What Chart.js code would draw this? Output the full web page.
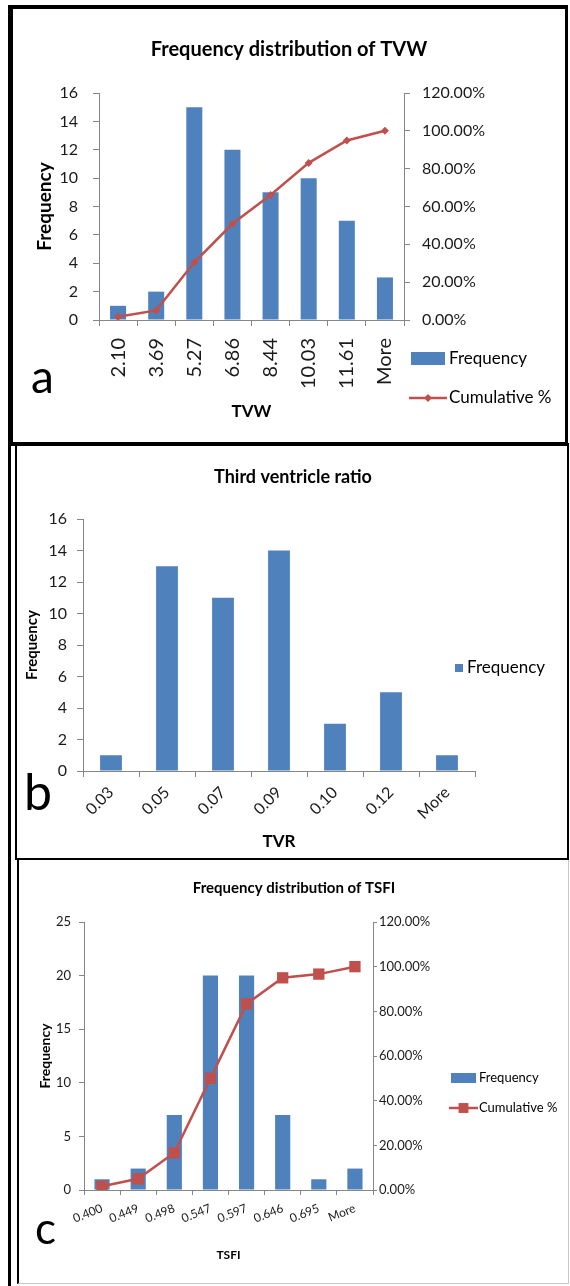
<!DOCTYPE html>
<html>
<head>
<meta charset="utf-8">
<title>Frequency distributions of TVW, TVR and TSFI</title>
<script src="https://cdn.jsdelivr.net/npm/chart.js@4.4.1/dist/chart.umd.min.js"></script>
<style>
  html, body { margin: 0; padding: 0; background: #fff; }
  body { position: relative; width: 570px; height: 1286px; overflow: hidden; font-family: 'Lato', sans-serif; }
  .frame { position: absolute; box-sizing: border-box; border: 0 solid #000; }
  canvas { position: absolute; }
</style>
</head>
<body>
<!-- panel frames -->
<div class="frame" style="left:8px;top:5px;width:560px;height:441px;border-width:4px 3px 4px 5px;"></div>
<div class="frame" style="left:8px;top:446px;width:3px;height:840px;background:#000;"></div>
<div class="frame" style="left:15px;top:443px;width:554px;height:417px;border-width:2px;"></div>
<div class="frame" style="left:17px;top:860px;width:552px;height:424px;border-width:0 1px 1px 2px;border-color:#000 #c8c8c8 #c8c8c8 #000;"></div>

<canvas id="tvwChart" width="552" height="433" style="left:13px;top:9px"></canvas>
<canvas id="tvrChart" width="550" height="413" style="left:17px;top:445px"></canvas>
<canvas id="tsfiChart" width="548" height="421" style="left:19px;top:862px"></canvas>

<script>
// --- data ---
const tvwBins = ['2.10', '3.69', '5.27', '6.86', '8.44', '10.03', '11.61', 'More'];
const tvwFrequency = [1, 2, 15, 12, 9, 10, 7, 3];
const tvwCumulative = [1.69, 5.08, 30.51, 50.85, 66.10, 83.05, 94.92, 100];

const tvrBins = ['0.03', '0.05', '0.07', '0.09', '0.10', '0.12', 'More'];
const tvrFrequency = [1, 13, 11, 14, 3, 5, 1];

const tsfiBins = ['0.400', '0.449', '0.498', '0.547', '0.597', '0.646', '0.695', 'More'];
const tsfiFrequency = [1, 2, 7, 20, 20, 7, 1, 2];
const tsfiCumulative = [1.67, 5.00, 16.67, 50.00, 83.33, 95.00, 96.67, 100];

const freqTicks = [16, 16, 25];      // left axis max (a, b, c)
const pctTicks = [0, 120];           // right axis range

// --- styling ---
const AXIS_GRAY = '#868686';
const BAR_BLUE = '#4F81BD';
const LINE_RED = '#C0504D';
const TEXT = '#1a1a1a';

Chart.defaults.font.family = "'Lato', sans-serif";
Chart.defaults.color = TEXT;

function drawMarker(ctx, style, x, y, r, color) {
    ctx.fillStyle = color;
    ctx.beginPath();
    if (style === 'rectRot') {
        ctx.moveTo(x, y - r);
        ctx.lineTo(x + r, y);
        ctx.lineTo(x, y + r);
        ctx.lineTo(x - r, y);
        ctx.closePath();
    } else {
        const s = r * Math.SQRT1_2;
        ctx.rect(x - s, y - s, 2 * s, 2 * s);
    }
    ctx.fill();
}

// title, panel letter and Excel-like legend
const decorPlugin = {
    id: 'decor',
    afterDraw(chart, args, o) {
        const ctx = chart.ctx;
        ctx.save();
        ctx.fillStyle = '#000';
        ctx.textAlign = 'center';
        ctx.textBaseline = 'middle';
        ctx.font = o.titleFont;
        ctx.fillText(o.title, o.titleX, o.titleY);

        ctx.textAlign = 'left';
        ctx.textBaseline = 'alphabetic';
        ctx.font = o.letterFont;
        ctx.fillText(o.letter, o.letterX, o.letterY);

        ctx.textBaseline = 'middle';
        ctx.font = o.legendFont;
        o.legend.forEach(item => {
            const ds = chart.data.datasets[item.dataset];
            if (ds.type === 'line') {
                ctx.strokeStyle = ds.borderColor;
                ctx.lineWidth = ds.borderWidth;
                ctx.beginPath();
                ctx.moveTo(item.x, item.y);
                ctx.lineTo(item.x + item.w, item.y);
                ctx.stroke();
                drawMarker(ctx, ds.pointStyle, item.x + item.w / 2, item.y, item.r, ds.pointBackgroundColor);
            } else {
                ctx.fillStyle = ds.backgroundColor;
                ctx.fillRect(item.x, item.y - item.h / 2, item.w, item.h);
            }
            ctx.fillStyle = '#000';
            ctx.fillText(ds.label, item.textX, item.y);
        });
        ctx.restore();
    }
};

const axisLine = { display: true, color: AXIS_GRAY, width: 1 };

function freqAxis(max, step, opts) {
    return {
        position: 'left', min: 0, max: max,
        ticks: { stepSize: step, padding: opts.pad, font: { size: opts.font }, color: TEXT },
        grid: { drawOnChartArea: false, drawTicks: true, tickLength: opts.tick, color: AXIS_GRAY },
        border: axisLine,
        title: { display: true, text: 'Frequency', color: '#000',
                 font: { size: opts.titleFont, weight: 'bold' }, padding: { top: opts.titlePad, bottom: 0 } },
        afterFit: s => { s.width = opts.width; }
    };
}

function pctAxis(opts) {
    return {
        position: 'right', min: pctTicks[0], max: pctTicks[1],
        ticks: { stepSize: 20, padding: opts.pad, font: { size: opts.font }, color: TEXT,
                 callback: v => v.toFixed(2) + '%' },
        grid: { drawOnChartArea: false, drawTicks: true, tickLength: opts.tick, color: AXIS_GRAY },
        border: axisLine,
        afterFit: s => { s.width = opts.width; }
    };
}

function binAxis(title, opts) {
    return {
        offset: true,
        ticks: { autoSkip: false, minRotation: opts.rot, maxRotation: opts.rot, padding: opts.pad,
                 font: { size: opts.font }, color: TEXT },
        grid: { offset: true, drawOnChartArea: false, drawTicks: true, tickLength: opts.tick, color: AXIS_GRAY },
        border: axisLine,
        title: { display: true, text: title, color: '#000', font: { size: opts.titleFont, weight: 'bold' }, padding: 0 },
        afterFit: s => { s.height = opts.height; }
    };
}

const baseOptions = {
    responsive: false,
    animation: false,
    events: [],
    plugins: { legend: { display: false }, tooltip: { enabled: false } }
};

// Chart a: TVW
new Chart(document.getElementById('tvwChart'), {
    type: 'bar',
    data: {
        labels: tvwBins,
        datasets: [
            { type: 'bar', label: 'Frequency', data: tvwFrequency, backgroundColor: BAR_BLUE,
              barPercentage: 0.42, categoryPercentage: 1, yAxisID: 'y', order: 1 },
            { type: 'line', label: 'Cumulative %', data: tvwCumulative, borderColor: LINE_RED, borderWidth: 2.5,
              pointStyle: 'rectRot', pointRadius: 4, pointBackgroundColor: LINE_RED, pointBorderWidth: 0,
              tension: 0, yAxisID: 'y1', order: 0 }
        ]
    },
    options: {
        ...baseOptions,
        layout: { autoPadding: false, padding: { left: 0, top: 84, right: 61, bottom: 20 } },
        scales: {
            x: binAxis('TVW', { rot: 90, pad: 12, font: 20, tick: 6, titleFont: 17, height: 102 }),
            y: freqAxis(freqTicks[0], 2, { pad: 15, font: 16, tick: 6, titleFont: 19, titlePad: 20, width: 86 }),
            y1: pctAxis({ pad: 12, font: 16, tick: 6, width: 100 })
        },
        plugins: {
            ...baseOptions.plugins,
            decor: {
                title: 'Frequency distribution of TVW', titleFont: "bold 20px 'Lato'", titleX: 276, titleY: 41,
                letter: 'a', letterFont: "46px 'Lato'", letterX: 18, letterY: 384,
                legendFont: "17px 'Lato'",
                legend: [
                    { dataset: 0, x: 398, y: 349.5, w: 34, h: 13, textX: 436 },
                    { dataset: 1, x: 396, y: 389, w: 38, r: 4, textX: 436 }
                ]
            }
        }
    },
    plugins: [decorPlugin]
});

// Chart b: third ventricle ratio
new Chart(document.getElementById('tvrChart'), {
    type: 'bar',
    data: {
        labels: tvrBins,
        datasets: [
            { type: 'bar', label: 'Frequency', data: tvrFrequency, backgroundColor: BAR_BLUE,
              barPercentage: 0.39, categoryPercentage: 1 }
        ]
    },
    options: {
        ...baseOptions,
        layout: { autoPadding: false, padding: { left: 0, top: 74, right: 92, bottom: 6 } },
        scales: {
            x: binAxis('TVR', { rot: 45, pad: 6, font: 16, tick: 6, titleFont: 17, height: 81 }),
            y: freqAxis(freqTicks[1], 2, { pad: 10, font: 16, tick: 6, titleFont: 15, titlePad: 6, width: 66 })
        },
        plugins: {
            ...baseOptions.plugins,
            decor: {
                title: 'Third ventricle ratio', titleFont: "bold 18px 'Lato'", titleX: 276, titleY: 32,
                letter: 'b', letterFont: "50px 'Lato'", letterX: 7, letterY: 365,
                legendFont: "17px 'Lato'",
                legend: [
                    { dataset: 0, x: 438, y: 223, w: 8, h: 8, textX: 450 }
                ]
            }
        }
    },
    plugins: [decorPlugin]
});

// Chart c: TSFI
new Chart(document.getElementById('tsfiChart'), {
    type: 'bar',
    data: {
        labels: tsfiBins,
        datasets: [
            { type: 'bar', label: 'Frequency', data: tsfiFrequency, backgroundColor: BAR_BLUE,
              barPercentage: 0.42, categoryPercentage: 1, yAxisID: 'y', order: 1 },
            { type: 'line', label: 'Cumulative %', data: tsfiCumulative, borderColor: LINE_RED, borderWidth: 2.5,
              pointStyle: 'rect', pointRadius: 8, pointBackgroundColor: LINE_RED, pointBorderWidth: 0,
              tension: 0, yAxisID: 'y1', order: 0 }
        ]
    },
    options: {
        ...baseOptions,
        layout: { autoPadding: false, padding: { left: 0, top: 60, right: 94, bottom: 21 } },
        scales: {
            x: binAxis('TSFI', { rot: 22, pad: 6, font: 12, tick: 5, titleFont: 12, height: 72 }),
            y: freqAxis(freqTicks[2], 5, { pad: 8, font: 13, tick: 5, titleFont: 14, titlePad: 18, width: 65 }),
            y1: pctAxis({ pad: 2, font: 13, tick: 4, width: 100 })
        },
        plugins: {
            ...baseOptions.plugins,
            decor: {
                title: 'Frequency distribution of TSFI', titleFont: "bold 15px 'Lato'", titleX: 275, titleY: 26,
                letter: 'c', letterFont: "44px 'Lato'", letterX: 16, letterY: 382,
                legendFont: "13px 'Lato'",
                legend: [
                    { dataset: 0, x: 432, y: 216, w: 25, h: 10, textX: 460 },
                    { dataset: 1, x: 430, y: 246, w: 29, r: 7, textX: 460 }
                ]
            }
        }
    },
    plugins: [decorPlugin]
});
</script>
</body>
</html>
